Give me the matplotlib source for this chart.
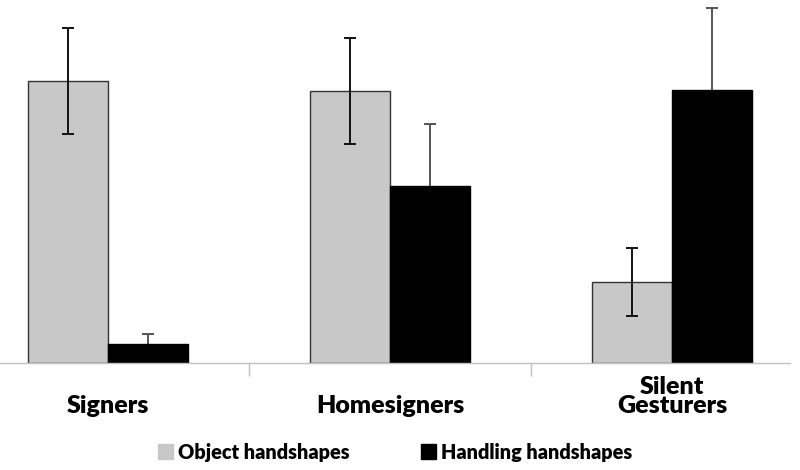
import matplotlib
matplotlib.use("Agg")
import matplotlib.pyplot as plt
import numpy as np
from matplotlib.patches import Patch

plt.rcParams['font.family'] = ['Lato', 'DejaVu Sans']

groups = ["Signers", "Homesigners", "Silent\nGesturers"]
object_vals = [0.806, 0.777, 0.231]
object_err = [0.151, 0.151, 0.097]
handling_vals = [0.054, 0.506, 0.780]
handling_err = [0.029, 0.177, 0.234]
legend_labels = ["Object handshapes", "Handling handshapes"]

fig = plt.figure(figsize=(8, 4.7), dpi=100)
ax = fig.add_axes([0, 107 / 470, 790 / 800, 363 / 470])

x = np.arange(len(groups))
w = 0.285
ax.bar(x - w / 2, object_vals, w, color="#c8c8c8", edgecolor="#333333", linewidth=1.0, zorder=2)
ax.errorbar(x - w / 2, object_vals, yerr=object_err, fmt="none", ecolor="#111111",
            elinewidth=1.4, capsize=4, capthick=1.4, zorder=3)
# black bars hide the lower whisker
ax.errorbar(x + w / 2, handling_vals, yerr=handling_err, fmt="none", ecolor="#555555",
            elinewidth=1.4, capsize=4, capthick=1.4, zorder=1)
ax.bar(x + w / 2, handling_vals, w, color="black", edgecolor="black", linewidth=1.0, zorder=2)

ax.set_xlim(-108 / 282, 682 / 282)
ax.set_ylim(0, 363 / 350)
for s in ["top", "right", "left"]:
    ax.spines[s].set_visible(False)
ax.spines["bottom"].set_color("#c0c0c0")
ax.spines["bottom"].set_linewidth(1.0)
ax.set_yticks([])
ax.set_xticks([0.5, 1.5])
ax.set_xticklabels([])
ax.tick_params(axis="x", length=9, color="#c0c0c0", width=1.0)

for xi, name in zip(x, groups):
    ax.text(xi, -50 / 350, name, ha="center", va="baseline", fontsize=18,
            fontweight="heavy", linespacing=0.82)

handles = [Patch(facecolor="#c8c8c8", edgecolor="#c8c8c8"),
           Patch(facecolor="black", edgecolor="black")]
fig.legend(handles, legend_labels, loc="center", bbox_to_anchor=(0.494, 0.038),
           ncol=2, frameon=False, prop=dict(size=14.3, weight="heavy"),
           handlelength=0.76, handleheight=0.76, handletextpad=0.25, columnspacing=3.57)

fig.savefig("out.png", dpi=100)
